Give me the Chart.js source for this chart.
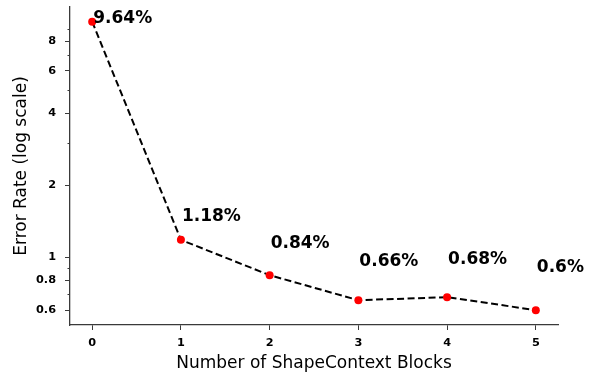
<!DOCTYPE html>
<html>
<head>
<meta charset="utf-8">
<script src="https://cdn.jsdelivr.net/npm/chart.js@4/dist/chart.umd.min.js"></script>
<style>
  html, body { margin: 0; padding: 0; background: #fff; }
  #wrap { width: 592px; height: 374px; }
</style>
</head>
<body>
<div id="wrap"><canvas id="c" width="592" height="374"></canvas></div>
<script>
// Number of ShapeContext blocks vs. error rate (%)
const blocks = [0, 1, 2, 3, 4, 5];
const errorRate = [9.64, 1.18, 0.84, 0.66, 0.68, 0.6];

// Log-axis ticks: labelled ones and the unlabelled minor ones in between
const yTickValues = [0.6, 0.7, 0.8, 0.9, 1, 2, 3, 4, 5, 6, 7, 8, 9];
const yTickLabels = [0.6, 0.8, 1, 2, 4, 6, 8];
const xTickValues = [0, 1, 2, 3, 4, 5];

const FONT = "'DejaVu Sans', sans-serif";
const AXIS = '#3a3a3a';

// Short marks for the minor log ticks
const minorTicks = {
  id: 'minorTicks',
  afterDraw(chart) {
    const y = chart.scales.y;
    const ctx = chart.ctx;
    ctx.save();
    ctx.strokeStyle = AXIS;
    ctx.lineWidth = 1;
    yTickValues.filter(v => !yTickLabels.includes(v)).forEach(v => {
      const py = Math.round(y.getPixelForValue(v)) + 0.5;
      ctx.beginPath();
      ctx.moveTo(chart.chartArea.left - 2.5, py);
      ctx.lineTo(chart.chartArea.left, py);
      ctx.stroke();
    });
    ctx.restore();
  }
};

// Percentage annotation next to each point
const valueLabels = {
  id: 'valueLabels',
  afterDatasetsDraw(chart) {
    const meta = chart.getDatasetMeta(0);
    const y = chart.scales.y;
    const ctx = chart.ctx;
    ctx.save();
    ctx.font = "bold 17px " + FONT;
    ctx.fillStyle = '#000';
    ctx.textAlign = 'left';
    ctx.textBaseline = 'middle';
    errorRate.forEach((v, i) => {
      const px = meta.data[i].x + 1;
      const py = y.getPixelForValue(v + 0.3);
      ctx.fillText(v + '%', px, py);
    });
    ctx.restore();
  }
};

new Chart(document.getElementById('c'), {
  type: 'line',
  data: {
    datasets: [{
      data: blocks.map((b, i) => ({ x: b, y: errorRate[i] })),
      borderColor: '#000',
      borderWidth: 2,
      borderDash: [7, 3.5],
      pointBackgroundColor: '#ff0000',
      pointBorderColor: '#ff0000',
      pointRadius: 4,
      pointBorderWidth: 0,
      tension: 0,
      fill: false
    }]
  },
  options: {
    responsive: false,
    animation: false,
    layout: { padding: { left: 0, top: 7, right: 34, bottom: 0 } },
    plugins: { legend: { display: false }, tooltip: { enabled: false } },
    scales: {
      x: {
        type: 'linear',
        min: -0.25,
        max: 5.25,
        afterFit: s => { s.height = 49; s.paddingLeft = 0; s.paddingRight = 0; },
        afterBuildTicks: s => { s.ticks = xTickValues.map(v => ({ value: v })); },
        border: { display: true, color: AXIS, width: 1.3 },
        grid: { drawOnChartArea: false, drawTicks: true, tickLength: 5, tickColor: AXIS },
        ticks: {
          padding: 6,
          maxRotation: 0,
          font: { family: FONT, size: 11.3, weight: 'bold' },
          color: '#000',
          callback: v => String(v)
        },
        title: {
          display: true,
          text: 'Number of ShapeContext Blocks',
          font: { family: FONT, size: 17 },
          color: '#000',
          padding: { top: 0, bottom: 0 }
        }
      },
      y: {
        type: 'logarithmic',
        min: 0.52,
        max: 11.1,
        afterFit: s => { s.width = 70; s.paddingTop = 0; s.paddingBottom = 0; },
        afterBuildTicks: s => { s.ticks = yTickValues.map(v => ({ value: v })); },
        border: { display: true, color: AXIS, width: 1.3 },
        grid: {
          drawOnChartArea: false,
          drawTicks: true,
          tickLength: 5,
          tickColor: c => (c.tick && yTickLabels.includes(c.tick.value)) ? AXIS : 'rgba(0,0,0,0)'
        },
        ticks: {
          padding: 9,
          autoSkip: false,
          font: { family: FONT, size: 11.3, weight: 'bold' },
          color: '#000',
          callback: v => yTickLabels.includes(v) ? String(v) : ''
        },
        title: {
          display: true,
          text: 'Error Rate (log scale)',
          font: { family: FONT, size: 17 },
          color: '#000',
          padding: { top: 11, bottom: 0 }
        }
      }
    }
  },
  plugins: [minorTicks, valueLabels]
});
</script>
</body>
</html>
